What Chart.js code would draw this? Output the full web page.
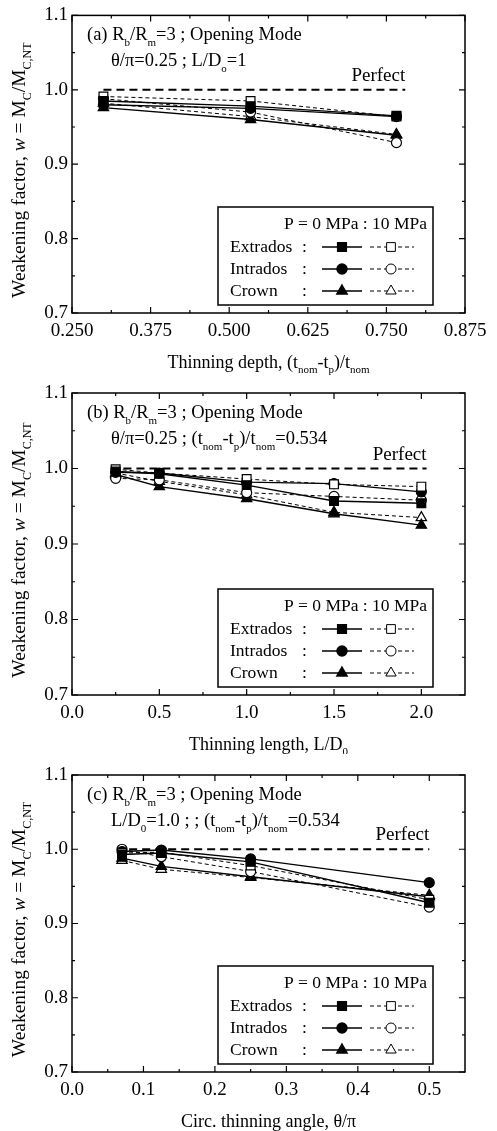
<!DOCTYPE html>
<html>
<head>
<meta charset="utf-8">
<script src="https://cdn.jsdelivr.net/npm/chart.js@4/dist/chart.umd.min.js"></script>
<style>
  body { margin: 0; background: #fff; width: 497px; height: 1131px; position: relative; overflow: hidden; }
  canvas { position: absolute; left: 0; }
</style>
</head>
<body>
<canvas id="chartA" width="497" height="377" style="top:0"></canvas>
<canvas id="chartB" width="497" height="377" style="top:377px"></canvas>
<canvas id="chartC" width="497" height="377" style="top:754px"></canvas>
<script>
// y axis (shared)
const yTicks = [0.7, 0.8, 0.9, 1.0, 1.1];
const yMinor = [0.75, 0.85, 0.95, 1.05];

// (a) thinning depth
const depthX = [0.30, 0.534, 0.766];
const depthTicks = [0.25, 0.375, 0.5, 0.625, 0.75, 0.875];
const depthMinor = [0.3125, 0.4375, 0.5625, 0.6875, 0.8125];
const depthExtr0 = [0.985, 0.978, 0.965];
const depthExtr10 = [0.991, 0.985, 0.964];
const depthIntr0 = [0.980, 0.975, 0.964];
const depthIntr10 = [0.988, 0.970, 0.929];
const depthCrown0 = [0.976, 0.960, 0.939];
const depthCrown10 = [0.982, 0.964, 0.940];
const depthPerfect = [0.30, 0.78];

// (b) thinning length
const lengthX = [0.25, 0.5, 1.0, 1.5, 2.0];
const lengthTicks = [0.0, 0.5, 1.0, 1.5, 2.0];
const lengthMinor = [0.25, 0.75, 1.25, 1.75];
const lengthExtr0 = [0.996, 0.993, 0.978, 0.957, 0.954];
const lengthExtr10 = [0.999, 0.994, 0.986, 0.979, 0.976];
const lengthIntr0 = [0.995, 0.994, 0.982, 0.980, 0.969];
const lengthIntr10 = [0.987, 0.985, 0.968, 0.963, 0.958];
const lengthCrown0 = [0.992, 0.976, 0.960, 0.940, 0.925];
const lengthCrown10 = [0.994, 0.983, 0.965, 0.942, 0.935];
const lengthPerfect = [0.22, 2.03];

// (c) circumferential angle
const angleX = [0.07, 0.125, 0.25, 0.5];
const angleTicks = [0.0, 0.1, 0.2, 0.3, 0.4, 0.5];
const angleMinor = [0.05, 0.15, 0.25, 0.35, 0.45];
const angleExtr0 = [0.993, 0.995, 0.983, 0.928];
const angleExtr10 = [0.995, 0.996, 0.978, 0.932];
const angleIntr0 = [0.997, 0.999, 0.987, 0.955];
const angleIntr10 = [1.000, 0.990, 0.970, 0.922];
const angleCrown0 = [0.988, 0.977, 0.963, 0.936];
const angleCrown10 = [0.985, 0.973, 0.962, 0.938];
const anglePerfect = [0.08, 0.5];

const FONT = 'Liberation Serif';
const markers = [
  { name: 'Extrados', shape: 'rect', r: 6.2 },
  { name: 'Intrados', shape: 'circle', r: 5 },
  { name: 'Crown', shape: 'triangle', r: 6 }
];

// draw text with subscripts / italics
function rich(ctx, parts, x, y, size, align) {
  const fontOf = k => (k === 'i' ? 'italic ' : '') + (k === 's' ? Math.round(size * 0.62) : size) + 'px "' + FONT + '"';
  let w = 0;
  parts.forEach(([t, k]) => { ctx.font = fontOf(k); w += ctx.measureText(t).width; });
  let cx = align === 'center' ? x - w / 2 : align === 'right' ? x - w : x;
  ctx.textAlign = 'left';
  ctx.textBaseline = 'alphabetic';
  parts.forEach(([t, k]) => {
    ctx.font = fontOf(k);
    ctx.fillText(t, cx, k === 's' ? y + size * 0.3 : y);
    cx += ctx.measureText(t).width;
  });
}

function series(xs, ys, m, filled) {
  return {
    data: xs.map((x, i) => ({ x, y: ys[i] })),
    borderColor: '#000',
    borderWidth: filled ? 1.4 : 1,
    borderDash: filled ? [] : [4, 3],
    pointStyle: m.shape,
    pointRadius: m.r,
    pointBackgroundColor: filled ? '#000' : '#fff',
    pointBorderColor: '#000',
    pointBorderWidth: 1.2,
    tension: 0
  };
}

const decor = {
  id: 'decor',
  afterDraw(chart, args, o) {
    const ctx = chart.ctx;
    const a = chart.chartArea;
    const xs = chart.scales.x, ys = chart.scales.y;
    ctx.save();
    ctx.fillStyle = '#000';
    ctx.strokeStyle = '#000';
    // frame
    ctx.lineWidth = 1.5;
    ctx.strokeRect(a.left, a.top, a.right - a.left, a.bottom - a.top);
    // inward ticks on all sides
    ctx.lineWidth = 1.2;
    ctx.beginPath();
    const tick = (vals, len) => vals.forEach(v => {
      const px = xs.getPixelForValue(v);
      ctx.moveTo(px, a.bottom); ctx.lineTo(px, a.bottom - len);
      ctx.moveTo(px, a.top); ctx.lineTo(px, a.top + len);
    });
    const ytick = (vals, len) => vals.forEach(v => {
      const py = ys.getPixelForValue(v);
      ctx.moveTo(a.left, py); ctx.lineTo(a.left + len, py);
      ctx.moveTo(a.right, py); ctx.lineTo(a.right - len, py);
    });
    tick(o.xTicks, 6); tick(o.xMinor, 3);
    ytick(yTicks, 6); ytick(yMinor, 3);
    ctx.stroke();

    // annotation
    rich(ctx, o.line1, a.left + 15, a.top + 25, 18.5, 'left');
    rich(ctx, o.line2, a.left + 39, a.top + 51, 18.5, 'left');

    // Perfect label
    const pX = xs.getPixelForValue(o.perfect[1]);
    rich(ctx, [['Perfect', '']], pX, ys.getPixelForValue(1.0) - 9, 19, 'right');

    // axis titles
    rich(ctx, o.xTitle, (a.left + a.right) / 2, a.bottom + 55, 18, 'center');
    ctx.save();
    ctx.translate(25, (a.top + a.bottom) / 2 + 6);
    ctx.rotate(-Math.PI / 2);
    rich(ctx, [['Weakening factor, ', ''], ['w', 'i'], [' = M', ''], ['C', 's'], ['/M', ''], ['C,NT', 's']], 0, 0, 19.5, 'center');
    ctx.restore();

    // legend box
    const bw = 215, bh = 98;
    const bx = a.right - 32 - bw, by = a.bottom - 8 - bh;
    ctx.fillStyle = '#fff';
    ctx.fillRect(bx, by, bw, bh);
    ctx.fillStyle = '#000';
    ctx.lineWidth = 1.5;
    ctx.strokeRect(bx, by, bw, bh);
    rich(ctx, [['P = 0 MPa : 10 MPa', '']], bx + bw - 6, by + 22, 17.5, 'right');
    markers.forEach((m, i) => {
      const base = by + 45 + i * 22;
      const cy = base - 5;
      rich(ctx, [[m.name, '']], bx + 12, base, 17.5, 'left');
      rich(ctx, [[':', '']], bx + 84, base, 17.5, 'left');
      // solid sample
      ctx.lineWidth = 1.4; ctx.setLineDash([]);
      ctx.beginPath(); ctx.moveTo(bx + 104, cy); ctx.lineTo(bx + 144, cy); ctx.stroke();
      ctx.fillStyle = '#000';
      Chart.helpers.drawPoint(ctx, { pointStyle: m.shape, radius: m.r, borderWidth: 1.2, rotation: 0 }, bx + 124, cy);
      // dashed sample
      ctx.lineWidth = 1; ctx.setLineDash([4, 3]);
      ctx.beginPath(); ctx.moveTo(bx + 152, cy); ctx.lineTo(bx + 196, cy); ctx.stroke();
      ctx.setLineDash([]);
      ctx.fillStyle = '#fff';
      Chart.helpers.drawPoint(ctx, { pointStyle: m.shape, radius: m.r, borderWidth: 1.2, rotation: 0 }, bx + 173, cy);
      ctx.fillStyle = '#000';
    });
    ctx.restore();
  }
};

function makeChart(id, cfg) {
  const datasets = [
    series(cfg.x, cfg.data[0], markers[0], true),
    series(cfg.x, cfg.data[1], markers[0], false),
    series(cfg.x, cfg.data[2], markers[1], true),
    series(cfg.x, cfg.data[3], markers[1], false),
    series(cfg.x, cfg.data[4], markers[2], true),
    series(cfg.x, cfg.data[5], markers[2], false),
    {
      data: cfg.perfect.map(x => ({ x, y: 1.0 })),
      borderColor: '#000', borderWidth: 2, borderDash: [8, 5], pointRadius: 0
    }
  ];
  return new Chart(document.getElementById(id), {
    type: 'line',
    data: { datasets },
    plugins: [decor],
    options: {
      responsive: false,
      animation: false,
      layout: { padding: { top: cfg.top, right: 32, left: 0, bottom: 0 } },
      plugins: {
        legend: { display: false },
        tooltip: { enabled: false },
        decor: {
          xTicks: cfg.ticks, xMinor: cfg.minor, perfect: cfg.perfect,
          line1: cfg.line1, line2: cfg.line2, xTitle: cfg.xTitle
        }
      },
      scales: {
        x: {
          type: 'linear', min: cfg.min, max: cfg.max,
          grid: { display: false, drawTicks: false }, border: { display: false },
          afterBuildTicks: s => { s.ticks = cfg.ticks.map(v => ({ value: v })); },
          afterFit: s => { s.height = cfg.xh; },
          ticks: { padding: 7, color: '#000', font: { family: FONT, size: 19 }, maxRotation: 0,
                   callback: v => v.toFixed(cfg.dec) }
        },
        y: {
          min: 0.7, max: 1.1,
          grid: { display: false, drawTicks: false }, border: { display: false },
          afterBuildTicks: s => { s.ticks = yTicks.map(v => ({ value: v })); },
          afterFit: s => { s.width = 72; },
          ticks: { padding: 4, color: '#000', font: { family: FONT, size: 19 },
                   callback: v => v.toFixed(1) }
        }
      }
    }
  });
}

makeChart('chartA', {
  x: depthX, ticks: depthTicks, minor: depthMinor, min: 0.25, max: 0.875, dec: 3,
  data: [depthExtr0, depthExtr10, depthIntr0, depthIntr10, depthCrown0, depthCrown10],
  perfect: depthPerfect, top: 13, xh: 64,
  line1: [['(a) R', ''], ['b', 's'], ['/R', ''], ['m', 's'], ['=3 ; Opening Mode', '']],
  line2: [['θ/π=0.25 ; L/D', ''], ['o', 's'], ['=1', '']],
  xTitle: [['Thinning depth, (t', ''], ['nom', 's'], ['-t', ''], ['p', 's'], [')/t', ''], ['nom', 's']]
});

makeChart('chartB', {
  x: lengthX, ticks: lengthTicks, minor: lengthMinor, min: 0, max: 2.25, dec: 1,
  data: [lengthExtr0, lengthExtr10, lengthIntr0, lengthIntr10, lengthCrown0, lengthCrown10],
  perfect: lengthPerfect, top: 16, xh: 59,
  line1: [['(b) R', ''], ['b', 's'], ['/R', ''], ['m', 's'], ['=3 ; Opening Mode', '']],
  line2: [['θ/π=0.25 ; (t', ''], ['nom', 's'], ['-t', ''], ['p', 's'], [')/t', ''], ['nom', 's'], ['=0.534', '']],
  xTitle: [['Thinning length, L/D', ''], ['0', 's']]
});

makeChart('chartC', {
  x: angleX, ticks: angleTicks, minor: angleMinor, min: 0, max: 0.55, dec: 1,
  data: [angleExtr0, angleExtr10, angleIntr0, angleIntr10, angleCrown0, angleCrown10],
  perfect: anglePerfect, top: 21, xh: 59,
  line1: [['(c) R', ''], ['b', 's'], ['/R', ''], ['m', 's'], ['=3 ; Opening Mode', '']],
  line2: [['L/D', ''], ['0', 's'], ['=1.0 ; ; (t', ''], ['nom', 's'], ['-t', ''], ['p', 's'], [')/t', ''], ['nom', 's'], ['=0.534', '']],
  xTitle: [['Circ. thinning angle, θ/π', '']]
});
</script>
</body>
</html>
